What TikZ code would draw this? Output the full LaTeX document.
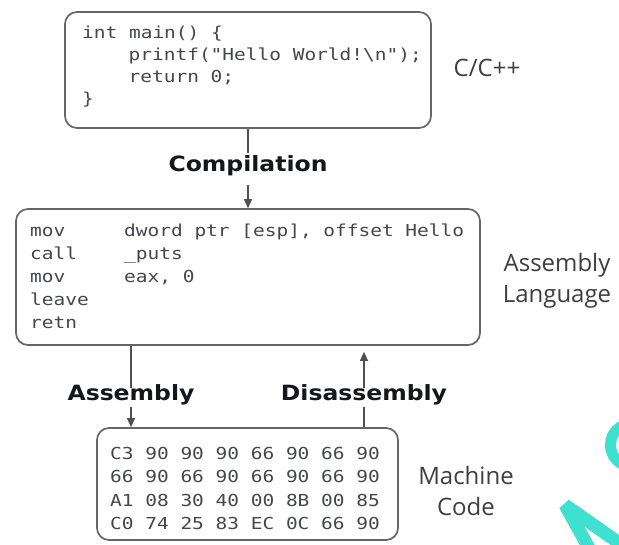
\documentclass[tikz,border=0pt]{standalone}
\usepackage{fontspec}
\usetikzlibrary{arrows.meta}
\newfontfamily\codefont{DejaVu Sans Mono}[FakeStretch=1.18,Ligatures=TeXOff]
\newfontfamily\lblfont{DejaVu Sans}[FakeStretch=1.12]
\newfontfamily\descfont{Open Sans}
\definecolor{boxgray}{HTML}{666666}
\definecolor{linegray}{HTML}{505050}
\definecolor{codegray}{HTML}{45454F}
\definecolor{descgray}{HTML}{3F3F3F}
\definecolor{lblblack}{HTML}{15151C}
\definecolor{wmark}{HTML}{40E0D0}
\newcommand\opc[1]{\makebox[94pt][l]{#1}}
\begin{document}
\begin{tikzpicture}[x=1pt,y=-1pt,
  box/.style={draw=boxgray, line width=1.7pt, rounded corners=12pt, inner sep=0pt},
  code/.style={anchor=base west, inner sep=0pt, text=codegray,
    font=\codefont\fontsize{16.5}{23}\selectfont},
  lbl/.style={anchor=base, inner xsep=2pt, inner ysep=2pt, text=lblblack,
    font=\lblfont\bfseries\fontsize{21}{25}\selectfont},
  desc/.style={align=center, inner sep=0pt, text=descgray,
    font=\descfont\fontsize{24}{31}\selectfont},
  conn/.style={draw=linegray, line width=1.2pt},
  tip/.style={-{Triangle[length=9pt,width=8pt]}}
]
\useasboundingbox (0,0) rectangle (619,544);
\fill[white] (0,0) rectangle (619,544);

% boxes
\node[box, minimum width=366pt, minimum height=116pt] (src) at (248,70) {};
\node[box, minimum width=464pt, minimum height=136pt] (asmbox) at (248,277) {};
\node[box, minimum width=301pt, minimum height=112pt] (mcbox) at (247.5,484) {};

% C code
\node[code] (c1) at (82,38) {int main() \{};
\node[code] (c2) at (128.5,60) {printf("Hello World!\textbackslash n");};
\node[code] (c3) at (128.5,82) {return 0;};
\node[code] (c4) at (82,104) {\}};

% assembly
\node[code] (a1) at (30,236) {\opc{mov}dword ptr [esp], offset Hello};
\node[code] (a2) at (30,259) {\opc{call}\_puts};
\node[code] (a3) at (30,282) {\opc{mov}eax, 0};
\node[code] (a4) at (30,305) {leave};
\node[code] (a5) at (30,328) {retn};

% machine code
\node[code] (m1) at (110,459) {C3 90 90 90 66 90 66 90};
\node[code] (m2) at (110,482.5) {66 90 66 90 66 90 66 90};
\node[code] (m3) at (110,506) {A1 08 30 40 00 8B 00 85};
\node[code] (m4) at (110,529.5) {C0 74 25 83 EC 0C 66 90};

% descriptors
\node[desc] (dc) at (487,68) {C/C++};
\node[desc] (da) at (557,281) {Assembly\\Language};
\node[desc] (dm) at (466,491) {Machine\\Code};

% labels
\node[lbl] (lc) at (248,171) {Compilation};
\node[lbl] (la) at (131,400) {Assembly};
\node[lbl] (ld) at (364,400) {Disassembly};

% connectors
\draw[conn] (src.south) -- (lc.north);
\draw[conn, tip] (lc.south) ++(0,7) -- (asmbox.north);

\draw[conn] (asmbox.south -| la) -- ([yshift=-6pt]la.north);
\draw[conn, tip] (la.south) -- (mcbox.north -| la);

\draw[conn] (mcbox.north -| ld) -- (ld.south);
\draw[conn, tip, shorten >=6pt] ([yshift=-6pt]ld.north) -- (asmbox.south -| ld);

% watermark fragments
\begin{scope}
\clip (0,0) rectangle (619,544);
\draw[wmark, line width=11pt] (632,445) circle (21.5);
\draw[wmark, line width=13pt, line join=bevel] (590,550) -- (565,505) -- (632,552);
\end{scope}
\end{tikzpicture}
\end{document}
